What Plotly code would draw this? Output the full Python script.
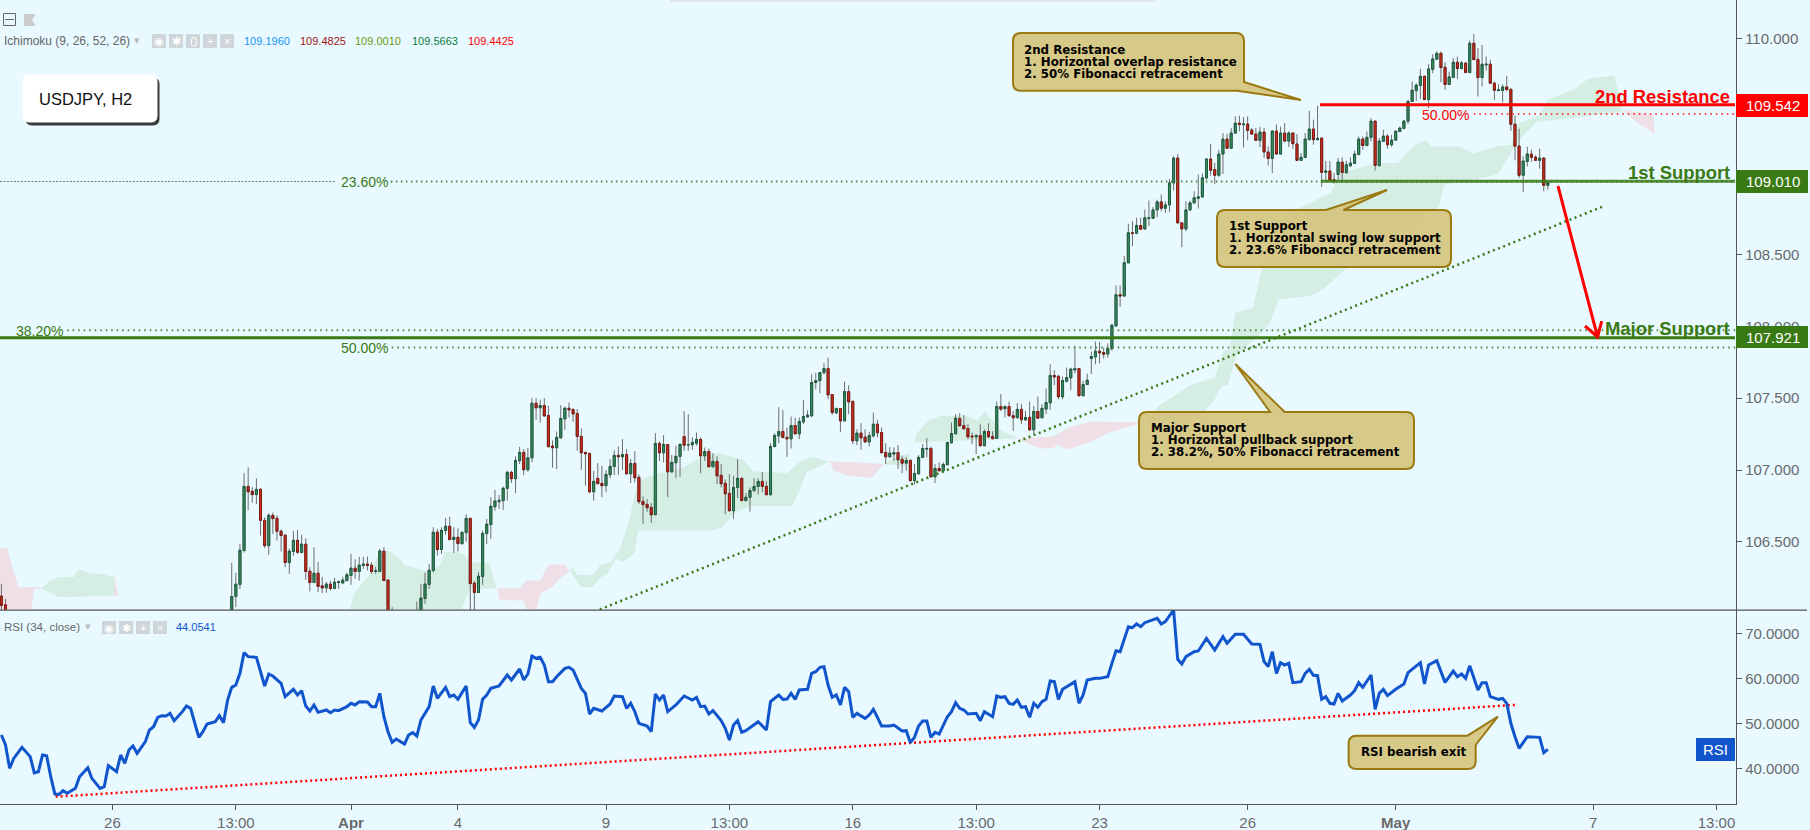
import plotly.graph_objects as go

W, H = 1810, 830

# USDJPY H2 candles. Bars 2-55 and 96-100 sit below the panel.
bar_index = [0, 1] + list(range(56, 96)) + list(range(101, 377))

opens = [
    106.123, 106.062,
    105.95, 106.12, 106.204, 106.44, 106.886, 106.852, 106.829, 106.866, 106.65, 106.474,
    106.685, 106.664, 106.574, 106.546, 106.356, 106.433, 106.511, 106.426, 106.484, 106.296,
    106.217, 106.282, 106.194, 106.18, 106.206, 106.176, 106.217, 106.215, 106.231, 106.266,
    106.317, 106.294, 106.336, 106.345, 106.338, 106.294, 106.294, 106.435, 106.234, 105.95,
    105.95, 105.98, 106.106, 106.204, 106.301, 106.567, 106.447, 106.579, 106.609, 106.516,
    106.532, 106.488, 106.565, 106.664, 106.213, 106.148, 106.259, 106.558, 106.62, 106.745,
    106.78, 106.787, 106.873, 106.984, 106.94, 107.065, 107.123, 107.002, 107.085, 107.465,
    107.433, 107.449, 107.38, 107.167, 107.155, 107.224, 107.356, 107.43, 107.421, 107.393,
    107.234, 107.123, 107.116, 106.849, 106.942, 106.907, 106.891, 106.967, 107.025, 107.102,
    107.092, 107.108, 106.974, 107.046, 106.949, 106.782, 106.761, 106.74, 106.689, 107.185,
    107.12, 107.178, 106.988, 107.051, 107.095, 107.233, 107.176, 107.176, 107.187, 107.213,
    107.099, 107.129, 107.023, 107.06, 106.963, 106.907, 106.838, 106.717, 106.879, 106.942,
    106.787, 106.81, 106.858, 106.886, 106.921, 106.886, 106.828, 107.164, 107.238, 107.268,
    107.227, 107.217, 107.31, 107.252, 107.335, 107.37, 107.377, 107.609, 107.622, 107.678,
    107.706, 107.525, 107.398, 107.428, 107.342, 107.546, 107.477, 107.203, 107.257, 107.229,
    107.196, 107.238, 107.319, 107.261, 107.122, 107.092, 107.111, 107.122, 107.074, 107.048,
    107.067, 106.926, 106.974, 107.088, 107.146, 107.15, 106.953, 107.011, 106.995, 107.037,
    107.19, 107.252, 107.358, 107.31, 107.289, 107.236, 107.231, 107.24, 107.169, 107.268,
    107.234, 107.22, 107.442, 107.426, 107.442, 107.378, 107.364, 107.422, 107.35, 107.366,
    107.28, 107.408, 107.364, 107.424, 107.468, 107.658, 107.653, 107.51, 107.618, 107.642,
    107.697, 107.706, 107.517, 107.595, 107.776, 107.787, 107.827, 107.818, 107.808, 107.845,
    108.003, 108.22, 108.211, 108.442, 108.651, 108.648, 108.701, 108.678, 108.75, 108.752,
    108.81, 108.866, 108.822, 108.845, 108.998, 109.171, 108.72, 108.678, 108.81, 108.859,
    108.891, 108.901, 109.033, 109.164, 109.091, 109.051, 109.199, 109.303, 109.239, 109.345,
    109.414, 109.403, 109.408, 109.366, 109.338, 109.294, 109.352, 109.213, 109.169, 109.359,
    109.199, 109.345, 109.289, 109.345, 109.269, 109.155, 109.176, 109.299, 109.373, 109.299,
    109.31, 109.072, 109.081, 109.021, 109.057, 109.143, 109.069, 109.118, 109.134, 109.196,
    109.303, 109.259, 109.315, 109.428, 109.12, 109.287, 109.324, 109.264, 109.296, 109.356,
    109.377, 109.428, 109.565, 109.641, 109.676, 109.74, 109.578, 109.789, 109.859, 109.9,
    109.803, 109.683, 109.733, 109.838, 109.794, 109.831, 109.766, 109.97, 109.858, 109.731,
    109.819, 109.824, 109.692, 109.641, 109.641, 109.666, 109.65, 109.407, 109.254, 109.051,
    109.148, 109.199, 109.178, 109.155, 109.171, 108.981,
]
highs = [
    106.208, 106.104,
    106.354, 106.285, 106.486, 106.979, 107.018, 106.88, 106.942, 106.873, 106.671, 106.699,
    106.704, 106.685, 106.588, 106.555, 106.454, 106.576, 106.583, 106.551, 106.525, 106.324,
    106.463, 106.359, 106.257, 106.222, 106.229, 106.25, 106.231, 106.257, 106.285, 106.417,
    106.379, 106.396, 106.396, 106.398, 106.359, 106.326, 106.451, 106.463, 106.241, 106.046,
    106.085, 106.208, 106.285, 106.347, 106.602, 106.59, 106.602, 106.667, 106.674, 106.602,
    106.595, 106.567, 106.692, 106.664, 106.229, 106.289, 106.579, 106.66, 106.81, 106.861,
    106.826, 106.886, 106.995, 106.995, 107.095, 107.162, 107.146, 107.153, 107.5, 107.5,
    107.49, 107.5, 107.447, 107.206, 107.268, 107.451, 107.442, 107.47, 107.43, 107.424,
    107.289, 107.123, 107.116, 106.995, 107.048, 107.03, 107.0, 107.076, 107.136, 107.164,
    107.215, 107.146, 107.076, 107.132, 106.97, 106.817, 106.798, 106.77, 107.257, 107.199,
    107.243, 107.178, 107.104, 107.169, 107.187, 107.409, 107.389, 107.227, 107.261, 107.227,
    107.157, 107.15, 107.118, 107.095, 107.041, 106.933, 106.972, 106.96, 107.076, 106.949,
    106.84, 106.879, 106.942, 106.942, 106.986, 106.921, 107.187, 107.257, 107.437, 107.416,
    107.296, 107.372, 107.365, 107.365, 107.486, 107.416, 107.666, 107.678, 107.683, 107.743,
    107.782, 107.525, 107.435, 107.43, 107.615, 107.59, 107.486, 107.284, 107.326, 107.284,
    107.266, 107.4, 107.349, 107.296, 107.187, 107.159, 107.157, 107.173, 107.099, 107.09,
    107.076, 107.041, 107.104, 107.18, 107.222, 107.164, 107.041, 107.053, 107.053, 107.196,
    107.331, 107.389, 107.396, 107.382, 107.319, 107.261, 107.25, 107.319, 107.284, 107.326,
    107.27, 107.477, 107.528, 107.45, 107.477, 107.412, 107.466, 107.459, 107.412, 107.477,
    107.447, 107.512, 107.459, 107.567, 107.736, 107.695, 107.66, 107.65, 107.713, 107.713,
    107.864, 107.706, 107.621, 107.672, 107.824, 107.894, 107.892, 107.852, 107.882, 108.019,
    108.285, 108.285, 108.489, 108.713, 108.732, 108.755, 108.755, 108.813, 108.875, 108.831,
    108.882, 108.917, 108.87, 109.026, 109.183, 109.199, 108.72, 108.87, 108.875, 108.94,
    109.056, 109.063, 109.171, 109.269, 109.137, 109.229, 109.345, 109.34, 109.38, 109.461,
    109.465, 109.456, 109.461, 109.38, 109.38, 109.387, 109.38, 109.252, 109.364, 109.405,
    109.39, 109.414, 109.357, 109.35, 109.338, 109.206, 109.345, 109.5, 109.438, 109.535,
    109.31, 109.151, 109.151, 109.067, 109.171, 109.176, 109.152, 109.176, 109.222, 109.321,
    109.321, 109.356, 109.449, 109.43, 109.31, 109.368, 109.338, 109.333, 109.36, 109.391,
    109.437, 109.576, 109.703, 109.692, 109.791, 109.745, 109.824, 109.893, 109.912, 109.912,
    109.838, 109.773, 109.866, 109.877, 109.847, 109.842, 109.988, 110.034, 109.935, 109.958,
    109.877, 109.854, 109.703, 109.685, 109.685, 109.743, 109.65, 109.467, 109.375, 109.183,
    109.25, 109.229, 109.19, 109.236, 109.176, 109.009,
]
lows = [
    106.0, 105.95,
    105.85, 106.046, 106.173, 106.426, 106.722, 106.773, 106.764, 106.544, 106.458, 106.41,
    106.555, 106.509, 106.433, 106.324, 106.278, 106.403, 106.417, 106.421, 106.236, 106.155,
    106.217, 106.15, 106.143, 106.146, 106.162, 106.173, 106.173, 106.206, 106.224, 106.201,
    106.243, 106.231, 106.312, 106.301, 106.278, 106.278, 106.289, 106.227, 105.9, 105.8,
    105.9, 105.95, 106.069, 106.173, 106.287, 106.405, 106.417, 106.549, 106.516, 106.423,
    106.433, 106.479, 106.502, 105.95, 105.95, 106.146, 106.201, 106.486, 106.521, 106.717,
    106.729, 106.722, 106.787, 106.91, 106.84, 107.042, 106.965, 106.988, 107.053, 107.349,
    107.331, 107.37, 107.162, 107.016, 107.007, 107.22, 107.28, 107.366, 107.336, 107.134,
    107.002, 106.891, 106.838, 106.787, 106.905, 106.812, 106.845, 106.944, 106.965, 106.967,
    107.0, 106.97, 106.909, 106.914, 106.764, 106.625, 106.71, 106.632, 106.689, 107.062,
    107.053, 106.812, 106.98, 106.944, 106.953, 107.134, 107.134, 107.141, 107.17, 106.979,
    107.064, 107.02, 107.018, 106.902, 106.879, 106.694, 106.71, 106.659, 106.805, 106.787,
    106.787, 106.71, 106.845, 106.828, 106.845, 106.828, 106.828, 107.157, 107.187, 107.22,
    107.092, 107.15, 107.25, 107.215, 107.319, 107.365, 107.37, 107.562, 107.534, 107.664,
    107.493, 107.384, 107.39, 107.266, 107.342, 107.389, 107.18, 107.173, 107.141, 107.19,
    107.164, 107.225, 107.227, 107.118, 107.041, 107.088, 107.064, 107.007, 106.979, 106.995,
    106.92, 106.898, 106.97, 107.088, 107.088, 106.95, 106.909, 106.99, 106.99, 107.035,
    107.185, 107.25, 107.303, 107.283, 107.215, 107.18, 107.111, 107.165, 107.169, 107.225,
    107.214, 107.216, 107.41, 107.366, 107.374, 107.273, 107.36, 107.32, 107.34, 107.276,
    107.25, 107.358, 107.36, 107.389, 107.42, 107.59, 107.493, 107.493, 107.61, 107.556,
    107.672, 107.517, 107.517, 107.595, 107.667, 107.736, 107.743, 107.776, 107.783, 107.829,
    108.0, 108.135, 108.205, 108.44, 108.558, 108.646, 108.672, 108.672, 108.697, 108.75,
    108.759, 108.8, 108.789, 108.794, 108.945, 108.72, 108.551, 108.662, 108.805, 108.855,
    108.82, 108.895, 109.02, 109.049, 108.991, 109.04, 109.06, 109.235, 109.235, 109.34,
    109.357, 109.245, 109.294, 109.333, 109.29, 109.248, 109.171, 109.118, 109.067, 109.195,
    109.195, 109.287, 109.248, 109.235, 109.15, 109.155, 109.17, 109.295, 109.264, 109.295,
    108.97, 109.01, 109.015, 108.993, 109.02, 109.02, 109.064, 109.108, 109.13, 109.19,
    109.229, 109.252, 109.287, 109.085, 109.11, 109.285, 109.236, 109.25, 109.29, 109.35,
    109.372, 109.407, 109.56, 109.569, 109.583, 109.575, 109.518, 109.761, 109.854, 109.699,
    109.646, 109.68, 109.727, 109.722, 109.789, 109.766, 109.763, 109.856, 109.599, 109.669,
    109.78, 109.688, 109.576, 109.635, 109.558, 109.635, 109.361, 109.155, 109.032, 108.933,
    109.113, 109.145, 109.15, 109.097, 108.94, 108.951,
]
closes = [
    106.058, 105.98,
    106.12, 106.206, 106.442, 106.886, 106.849, 106.829, 106.866, 106.65, 106.474, 106.685,
    106.662, 106.574, 106.544, 106.356, 106.435, 106.511, 106.428, 106.484, 106.294, 106.217,
    106.282, 106.19, 106.18, 106.206, 106.176, 106.22, 106.222, 106.234, 106.271, 106.317,
    106.294, 106.338, 106.345, 106.336, 106.294, 106.298, 106.437, 106.231, 105.95, 105.9,
    106.0, 106.109, 106.206, 106.303, 106.567, 106.447, 106.581, 106.609, 106.516, 106.532,
    106.488, 106.567, 106.664, 106.21, 106.148, 106.261, 106.56, 106.623, 106.748, 106.785,
    106.789, 106.873, 106.984, 106.94, 107.067, 107.123, 107.002, 107.085, 107.465, 107.433,
    107.449, 107.377, 107.162, 107.155, 107.227, 107.359, 107.43, 107.419, 107.391, 107.234,
    107.12, 107.113, 106.849, 106.921, 106.905, 106.891, 106.97, 107.025, 107.102, 107.092,
    107.108, 106.974, 107.046, 106.946, 106.78, 106.759, 106.738, 106.689, 107.185, 107.12,
    107.178, 106.988, 107.053, 107.095, 107.178, 107.173, 107.176, 107.192, 107.213, 107.099,
    107.129, 107.023, 107.06, 106.96, 106.905, 106.835, 106.717, 106.879, 106.942, 106.787,
    106.81, 106.858, 106.886, 106.921, 106.886, 106.828, 107.164, 107.24, 107.268, 107.227,
    107.217, 107.31, 107.252, 107.338, 107.372, 107.382, 107.609, 107.622, 107.678, 107.706,
    107.523, 107.4, 107.428, 107.342, 107.546, 107.474, 107.203, 107.257, 107.224, 107.196,
    107.24, 107.319, 107.259, 107.12, 107.092, 107.118, 107.122, 107.071, 107.048, 107.067,
    106.926, 106.976, 107.088, 107.15, 107.15, 106.953, 107.011, 106.995, 107.039, 107.192,
    107.254, 107.361, 107.308, 107.287, 107.231, 107.231, 107.24, 107.169, 107.268, 107.231,
    107.218, 107.442, 107.424, 107.442, 107.378, 107.364, 107.422, 107.35, 107.366, 107.28,
    107.408, 107.361, 107.429, 107.47, 107.658, 107.648, 107.51, 107.623, 107.644, 107.702,
    107.706, 107.517, 107.595, 107.625, 107.79, 107.827, 107.815, 107.806, 107.845, 108.007,
    108.22, 108.211, 108.442, 108.651, 108.646, 108.701, 108.676, 108.755, 108.755, 108.81,
    108.866, 108.822, 108.845, 108.998, 109.171, 108.72, 108.678, 108.81, 108.859, 108.894,
    108.901, 109.033, 109.164, 109.086, 109.051, 109.199, 109.303, 109.239, 109.345, 109.414,
    109.405, 109.408, 109.364, 109.338, 109.294, 109.352, 109.213, 109.169, 109.359, 109.199,
    109.345, 109.289, 109.345, 109.271, 109.155, 109.176, 109.303, 109.373, 109.299, 109.308,
    109.072, 109.081, 109.018, 109.014, 109.143, 109.071, 109.125, 109.136, 109.199, 109.303,
    109.259, 109.315, 109.428, 109.12, 109.289, 109.324, 109.264, 109.296, 109.358, 109.379,
    109.428, 109.565, 109.643, 109.678, 109.74, 109.578, 109.791, 109.861, 109.9, 109.801,
    109.683, 109.736, 109.838, 109.794, 109.833, 109.766, 109.97, 109.856, 109.731, 109.824,
    109.824, 109.692, 109.643, 109.646, 109.666, 109.648, 109.407, 109.254, 109.051, 109.15,
    109.199, 109.176, 109.155, 109.171, 108.981, 109.0,
]

rsi_bars = [
    0, 1, 2, 3, 5, 7, 8, 9, 10, 11, 12, 13, 14, 15, 16, 18, 19, 21, 22, 24, 25, 26, 28, 29, 30, 31, 32, 33,
    35, 36, 37, 38, 39, 40, 41, 42, 44, 45, 46, 47, 48, 49, 50, 52, 53, 54, 55, 56, 57, 58, 59, 60, 62, 63,
    64, 65, 66, 68, 69, 71, 72, 73, 74, 75, 76, 77, 79, 80, 81, 82, 84, 85, 86, 87, 89, 90, 91, 92, 93, 94,
    95, 96, 98, 99, 100, 101, 102, 104, 105, 106, 108, 109, 110, 111, 113, 114, 115, 116, 117, 118, 119,
    121, 123, 124, 126, 127, 128, 129, 130, 131, 132, 133, 134, 135, 137, 138, 139, 141, 142, 143, 144,
    146, 148, 149, 151, 152, 153, 154, 155, 157, 158, 159, 160, 161, 162, 164, 166, 168, 169, 170, 171,
    172, 173, 175, 176, 177, 178, 179, 180, 181, 183, 184, 186, 187, 189, 190, 191, 192, 193, 194, 196,
    197, 198, 199, 200, 201, 202, 203, 204, 205, 206, 207, 208, 210, 211, 212, 213, 214, 216, 217, 219,
    220, 221, 222, 223, 224, 225, 226, 227, 228, 230, 231, 232, 233, 234, 235, 237, 238, 239, 241, 242,
    243, 244, 245, 246, 247, 248, 249, 250, 251, 252, 253, 254, 255, 256, 257, 258, 261, 262, 263, 264,
    266, 267, 269, 270, 271, 272, 274, 275, 276, 277, 278, 281, 282, 283, 285, 286, 287, 288, 290, 291,
    293, 295, 297, 298, 300, 302, 304, 306, 307, 308, 309, 310, 311, 312, 313, 314, 316, 317, 318, 319,
    320, 321, 322, 323, 324, 325, 326, 328, 329, 330, 331, 333, 334, 335, 336, 337, 339, 341, 342, 345,
    346, 347, 349, 351, 353, 354, 355, 356, 357, 359, 360, 361, 362, 364, 365, 366, 367, 368, 369, 371,
    372, 373, 374, 375, 376,
]
rsi_values = [
    47.4, 45.18, 40.0, 42.2, 44.66, 42.6, 39.0, 39.25, 42.96, 42.8, 38.14, 34.29, 34.2, 35.03, 34.44, 35.55,
    38.14, 40.14, 37.77, 35.55, 35.92, 40.59, 39.25, 42.96, 41.1, 44.07, 44.96, 43.33,
    45.92, 48.51, 49.25, 51.33, 51.7, 51.62, 52.21, 50.59, 52.59, 53.84, 53.33, 50.0, 46.88, 48.14, 49.84,
    50.36, 51.7, 50.14, 55.18, 57.99, 58.51, 61.1, 65.7, 64.81, 64.66, 61.47,
    58.29, 60.96, 60.51, 58.88, 55.92, 57.55, 56.29, 57.25, 53.84, 52.73, 54.07, 52.44, 52.96, 52.36, 52.96,
    52.81, 53.7, 54.44, 54.07, 54.81, 54.73, 53.7, 53.7, 56.66, 51.47, 48.14,
    45.77, 46.51, 45.4, 47.4, 47.92, 47.18, 50.73, 53.7, 58.29, 55.55, 57.99, 55.92, 56.29, 55.33, 58.29,
    50.14, 49.1, 50.73, 55.33, 56.29, 57.77,
    58.29, 60.73, 59.62, 62.07, 59.62, 60.96, 64.96, 64.44, 64.66, 62.96, 59.25, 59.25, 60.36, 62.21, 62.44,
    61.84, 57.77, 56.66, 52.07, 53.33,
    52.73, 54.29, 56.07, 55.92, 53.33, 54.44, 52.59, 50.0, 49.4, 48.14, 56.51, 55.18, 56.29, 52.59, 54.07,
    56.07, 55.18, 55.77, 53.7, 53.84,
    52.07, 52.81, 50.59, 48.88, 46.29, 49.62, 50.59, 48.0, 48.36, 49.62, 50.36, 48.51, 54.81, 56.29, 55.33,
    55.4, 56.66, 55.33, 57.4, 57.55,
    61.1, 61.47, 62.44, 62.59, 58.51, 55.77, 56.29, 54.07, 57.99, 57.03, 51.33, 52.21, 51.1, 51.84, 53.1,
    51.33, 49.4, 49.4, 49.62, 48.29,
    48.36, 45.7, 46.88, 49.4, 50.51, 50.51, 46.88, 47.99, 47.62, 51.47, 52.59, 54.59, 53.33, 52.96, 52.07,
    52.21, 50.59, 52.59, 51.47, 56.07,
    55.77, 55.92, 54.44, 54.21, 55.18, 53.55, 53.7, 51.33, 54.44, 53.55, 54.81, 55.33, 59.4, 59.25, 55.33,
    57.55, 59.25, 54.44, 56.29, 59.62,
    59.99, 59.99, 60.36, 63.33, 66.14, 65.92, 71.47, 71.25, 72.07, 71.47, 72.36, 73.33, 72.07, 72.59, 75.18,
    64.21, 63.18, 64.81, 65.92, 66.07,
    68.88, 66.29, 69.25, 67.77, 69.77, 69.77, 67.62, 67.55, 63.7, 62.59, 65.92, 61.1, 63.47, 62.96, 63.33,
    59.03, 59.25, 61.1, 61.99, 60.66,
    60.59, 55.33, 55.92, 54.44, 54.29, 56.66, 54.96, 56.29, 57.25, 59.03, 57.99, 60.73, 53.1, 56.66, 57.55,
    56.14, 57.55, 58.73, 61.25, 63.47,
    58.73, 62.96, 63.92, 59.1, 61.62, 60.36, 60.96, 59.99, 62.81, 57.4, 59.03, 59.03, 55.92, 55.33, 55.55,
    54.44, 50.0, 47.03, 44.44, 47.03,
    47.03, 46.88, 46.88, 43.47, 44.22,
]

# ichimoku cloud pieces: (bars, upper span) then (bars, lower span)
cloud_green = [
    ([9.8, 11.6, 14, 17.7, 18.6, 21.9, 25.1, 26.5, 27.4],
     [106.18, 106.22, 106.255, 106.255, 106.312, 106.278, 106.278, 106.255, 106.266],
     [9.8, 11.6, 14, 17.7, 27.4],
     [106.174, 106.15, 106.116, 106.116, 106.127]),
    ([84.8, 85.6, 87.2, 89.2, 90.4, 91.6, 93.7, 95.3, 96.9, 98.1, 100.2, 102.2, 104.2, 106.6, 107.8, 109.9,
      112.3, 113.9, 118.8, 119.6, 120.4],
     [106.03, 106.127, 106.197, 106.255, 106.336, 106.405, 106.44, 106.417, 106.382, 106.336, 106.324, 106.301,
      106.296, 106.336, 106.428, 106.433, 106.417, 106.359, 106.354, 106.243, 106.178],
     [84.8, 111.9, 113.9, 120.4],
     [106.03, 106.03, 106.173, 106.178]),
    ([138.2, 139, 139.9, 143.9, 145.5, 148.3, 150.66, 152.5, 154.8, 159, 165.1, 170.7, 174.4, 180.4, 182.75,
      191.1, 193.9, 196.7, 201.4],
     [106.296, 106.328, 106.27, 106.27, 106.336, 106.359, 106.474, 106.637, 106.926, 106.972, 107.007, 107.1,
      107.118, 107.072, 106.991, 106.979, 107.053, 107.095, 107.06],
     [138.2, 141.1, 143.9, 145.5, 147.4, 149.3, 151.1, 153.9, 154.8, 172.5, 175.3, 178.6, 181.8, 192.1, 193.9,
      195.8, 201.4],
     [106.296, 106.185, 106.185, 106.25, 106.278, 106.382, 106.359, 106.417, 106.579, 106.579, 106.602, 106.706,
      106.748, 106.748, 106.845, 106.984, 107.06]),
    ([214.4, 218.1, 220.9, 222.75, 225.5, 228.3, 234.8, 237.2, 239, 243.2, 246.9],
     [107.042, 107.1, 107.111, 107.262, 107.343, 107.377, 107.377, 107.343, 107.405, 107.273, 107.227],
     [214.4, 216.7, 220, 221.8, 226.5, 246.9],
     [107.042, 107.035, 107.03, 107.192, 107.197, 107.22]),
    ([278, 281.3, 286.4, 289.5, 295, 297.2, 298.7, 299.9, 304.3, 306.8, 309.4, 313.1, 323.2, 325.7, 334.5, 339.5,
      343.3, 346.4, 347.7, 354.6, 357.7, 363.4, 367.1, 369, 374, 375.9, 382.2, 386, 392.2, 394.1],
     [107.33, 107.446, 107.539, 107.597, 107.643, 107.828, 107.84, 108.095, 108.13, 108.442, 108.651, 108.79,
      108.928, 109.067, 109.137, 109.137, 109.252, 109.299, 109.252, 109.252, 109.201, 109.252, 109.264, 109.414,
      109.472, 109.577, 109.646, 109.727, 109.743, 109.507],
     [278, 291.5, 295, 296.7, 298.2, 300.2, 306.4, 308.4, 310.6, 318.1, 321.3, 327.6, 329.5, 349.5, 350.8, 362.1,
      364, 369, 373.4, 382.2, 394.1],
     [107.33, 107.377, 107.493, 107.585, 107.59, 107.794, 107.956, 108.025, 108.188, 108.211, 108.257, 108.419,
      108.465, 108.836, 108.986, 109.044, 109.067, 109.299, 109.426, 109.449, 109.495]),
]
cloud_red = [
    ([-0.34, 1.4, 2.8, 4.2, 7.9, 9.8],
     [106.456, 106.456, 106.312, 106.185, 106.185, 106.18],
     [-0.34, 7.3, 7.9, 9.8],
     [106.03, 106.03, 106.17, 106.174]),
    ([27.4, 28.4], [106.266, 106.127], [27.4, 28.4], [106.127, 106.127]),
    ([120.4, 126.1, 127.7, 131, 133, 137, 138.2],
     [106.178, 106.178, 106.231, 106.231, 106.342, 106.342, 106.296],
     [120.4, 121.2, 126.9, 127.7, 130.1, 131, 133.8, 136.2, 138.2],
     [106.178, 106.096, 106.092, 106.03, 106.03, 106.139, 106.185, 106.255, 106.296]),
    ([201.4, 208.8, 214.4], [107.06, 107.053, 107.042],
     [201.4, 202.3, 206, 211.6, 214.4], [107.06, 106.995, 106.96, 106.944, 107.042]),
    ([246.9, 248.8, 255.8, 259.5, 265.1, 278], [107.22, 107.22, 107.234, 107.296, 107.338, 107.33],
     [246.9, 252.5, 255.8, 256.7, 259, 264.6, 269.3, 278],
     [107.22, 107.15, 107.153, 107.176, 107.141, 107.192, 107.262, 107.33]),
    ([394.1, 401.7, 402], [109.507, 109.472, 109.34], [394.1, 397.9, 402], [109.507, 109.414, 109.34]),
]

# 109.500 and 109.000 sit fully behind the price flags in the picture
price_ticks = [106.5, 107.0, 107.5, 108.0, 108.5, 110.0]
rsi_ticks = [40, 50, 60, 70]
time_ticks = [27, 57, 85, 111, 147, 177, 207, 237, 267, 303, 339, 387, 417]
time_labels = ["26", "13:00", "<b>Apr</b>", "4", "9", "13:00", "16", "13:00", "23", "26", "<b>May</b>", "7", "13:00"]

resistance_2 = 109.542
support_1 = 109.010
support_major = 107.921
fib_236 = 109.008
fib_382 = 107.973
fib_500 = 107.852
fib_500_red = 109.477
trend_x = [145.5, 389.9]
trend_y = [106.03, 108.84]
rsi_trend_x = [13.2, 368.7]
rsi_trend_y = [33.69, 54.13]

BG = "#E8F9FF"
GREEN = "#3A7A14"
RED = "#FF0000"
BLUE = "#1155CC"
AXIS = "#555555"
TICK = "#6A6A6A"
FONT = "Liberation Sans"
X_RANGE = [-0.34, 421.74]


def fx(px):
    return px / W


def fy(py):
    return 1 - py / H


def rect(x0, y0, x1, y1, color, line=None, layer="above"):
    return dict(type="rect", xref="paper", yref="paper", x0=fx(x0), x1=fx(x1), y0=fy(y0), y1=fy(y1),
                fillcolor=color, line=dict(color=line or color, width=1 if line else 0), layer=layer)


def label(px, py, text, size=11, color="#555555", anchor="left", bold=False, family=FONT):
    return dict(xref="paper", yref="paper", x=fx(px), y=fy(py), text=text, showarrow=False,
                xanchor=anchor, yanchor="middle", align=anchor, borderpad=0,
                font=dict(family=family, size=size, color=color, weight=700 if bold else 400))


def pt(x, y):
    return f"{fx(x):.5f},{fy(y):.5f}"


def bubble(x0, y0, x1, y1, tail, where, r=8, fill="rgba(213,197,127,0.93)", edge="#9B7A12", width=2):
    # rounded box with a pointer spliced into the outline
    tail_path = " ".join("L" + pt(*p) for p in tail)
    d = "M" + pt(x0 + r, y0)
    if where == "top":
        d += " " + tail_path
    if where == "tr":
        d += " " + tail_path
    else:
        d += " L" + pt(x1 - r, y0) + " Q" + pt(x1, y0) + " " + pt(x1, y0 + r)
    if where == "br":
        d += " " + tail_path
    else:
        d += " L" + pt(x1, y1 - r) + " Q" + pt(x1, y1) + " " + pt(x1 - r, y1)
    d += " L" + pt(x0 + r, y1) + " Q" + pt(x0, y1) + " " + pt(x0, y1 - r)
    d += " L" + pt(x0, y0 + r) + " Q" + pt(x0, y0) + " " + pt(x0 + r, y0) + " Z"
    return dict(type="path", xref="paper", yref="paper", path=d, fillcolor=fill,
                line=dict(color=edge, width=width), layer="above")


def cloud_shape(up_x, up_y, lo_x, lo_y, color):
    xs = up_x + lo_x[::-1]
    ys = up_y + lo_y[::-1]
    d = "M" + " L".join(f"{a},{b}" for a, b in zip(xs, ys)) + " Z"
    return dict(type="path", xref="x", yref="y", path=d, fillcolor=color, line=dict(width=0), layer="below")


fig = go.Figure()

# levels
x_end = X_RANGE[1]
level_lines = [
    ([-0.34, 81.1], [fib_236, fib_236], "#5E8A5E", 1, "2px,1.5px"),
    ([94.7, x_end], [fib_236, fib_236], "#4C8A3C", 2, "1.5px,3.5px"),
    ([16, x_end], [fib_382, fib_382], "#4C8A3C", 2, "1.5px,4px"),
    ([94.9, x_end], [fib_500, fib_500], "#4C8A3C", 2, "1.5px,4px"),
    ([358, x_end], [fib_500_red, fib_500_red], "#FF4040", 2, "1.5px,4px"),
    (trend_x, trend_y, GREEN, 2.5, "2px,3.5px"),
    ([320.8, 421.5], [support_1, support_1], "rgba(58,122,20,0.85)", 3, None),
    ([-0.34, 421.5], [support_major, support_major], GREEN, 3, None),
]
for xs, ys, color, width, dash in level_lines:
    fig.add_trace(go.Scatter(x=xs, y=ys, mode="lines", line=dict(color=color, width=width, dash=dash),
                             hoverinfo="skip", xaxis="x", yaxis="y"))

# wicks first, bodies with their dark border on top
fig.add_trace(go.Candlestick(x=bar_index, open=opens, high=highs, low=lows, close=closes, whiskerwidth=0,
                             increasing=dict(line=dict(color="#6E6E6E", width=1), fillcolor="#3A9068"),
                             decreasing=dict(line=dict(color="#6E6E6E", width=1), fillcolor="#D9301E"),
                             hoverinfo="skip", xaxis="x", yaxis="y"))
fig.add_trace(go.Candlestick(x=bar_index, open=opens, close=closes,
                             high=[max(a, b) for a, b in zip(opens, closes)],
                             low=[min(a, b) for a, b in zip(opens, closes)], whiskerwidth=0,
                             increasing=dict(line=dict(color="#1F5C3C", width=1), fillcolor="#3A9068"),
                             decreasing=dict(line=dict(color="#7A1B14", width=1), fillcolor="#D9301E"),
                             hoverinfo="skip", xaxis="x", yaxis="y"))

fig.add_trace(go.Scatter(x=[320.6, 421.5], y=[resistance_2, resistance_2], mode="lines",
                         line=dict(color=RED, width=3), hoverinfo="skip", xaxis="x", yaxis="y"))

# RSI pane
fig.add_trace(go.Scatter(x=rsi_trend_x, y=rsi_trend_y, mode="lines", line=dict(color=RED, width=2.5, dash="2px,3px"),
                         hoverinfo="skip", xaxis="x2", yaxis="y2"))
fig.add_trace(go.Scatter(x=rsi_bars, y=rsi_values, mode="lines", line=dict(color=BLUE, width=3),
                         hoverinfo="skip", xaxis="x2", yaxis="y2"))

shapes = [
    rect(670, 0, 1155, 1.5, "#DDE2E4"),
    rect(0, 609.5, 1807, 610.7, AXIS),
    # price flags
    rect(1736, 94, 1808, 117, "#FF0000"),
    rect(1736, 170, 1808, 193, GREEN),
    rect(1736, 326, 1808, 348, GREEN),
    rect(1696, 738, 1735, 761, BLUE),
    # symbol box
    bubble(26, 78, 159, 125, [], "top", r=6, fill="#3A3A3A", edge="#3A3A3A", width=1),
    bubble(23, 75, 157, 122, [], "top", r=6, fill="#FFFFFF", edge="#FFFFFF", width=1),
    # toolbar bits
    rect(3.5, 13.5, 15.5, 25.5, BG, line="#666666"),
    rect(5, 19, 14, 20, "#666666"),
    dict(type="path", xref="paper", yref="paper", path="M" + pt(24, 14) + " L" + pt(36, 14) + " L" + pt(32, 20)
         + " L" + pt(36, 26) + " L" + pt(24, 26) + " Z", fillcolor="#CCCCCC", line=dict(width=0), layer="above"),
    # red arrow
    dict(type="path", xref="paper", yref="paper",
         path="M" + pt(1558, 186) + " L" + pt(1597.6, 337) + " M" + pt(1585, 326) + " L" + pt(1597.6, 337)
         + " L" + pt(1601.7, 321), line=dict(color=RED, width=3), layer="above"),
    # callouts
    bubble(1013, 33, 1244, 90.7, [(1244, 82), (1301, 100), (1237, 90.7)], "br"),
    bubble(1217, 210, 1451, 267, [(1326, 210), (1387, 190), (1343.5, 210)], "top"),
    bubble(1139, 412, 1414, 469, [(1270, 412), (1235.4, 364), (1284.7, 412)], "top"),
    bubble(1348.6, 735.7, 1475.7, 769, [(1467.6, 735.7), (1497.8, 716.7), (1475.7, 745)], "tr"),
]

# cloud goes under the candles
for pieces, color in ((cloud_green, "rgb(212,238,228)"), (cloud_red, "rgb(238,224,230)")):
    for up_x, up_y, lo_x, lo_y in pieces:
        shapes.append(cloud_shape(up_x, up_y, lo_x, lo_y, color))

toolbar_main = [(152, "◉"), (169, "✱"), (186, "()"), (203, "+"), (220, "×")]
toolbar_rsi = [(102, "◉"), (119, "✱"), (136, "+"), (153, "×")]
for x0, _ in toolbar_main:
    shapes.append(rect(x0, 34, x0 + 14, 48, "#CFD6DA"))
for x0, _ in toolbar_rsi:
    shapes.append(rect(x0, 621, x0 + 14, 634, "#CFD6DA"))

notes = [
    label(3, 41, "Ichimoku (9, 26, 52, 26)", size=12, color="#666666"),
    label(133, 40, "▾", size=11, color="#BBBBBB"),
    label(242.6, 41, "109.1960", color="#2196F3"),
    label(298.5, 41, "109.4825", color="#A31515"),
    label(354.4, 41, "109.0010", color="#6B9B10"),
    label(410.6, 41, "109.5663", color="#0F8040"),
    label(466.5, 41, "109.4425", color="#FF0000"),
    label(3, 627, "RSI (34, close)", size=11.5, color="#666666"),
    label(84, 626, "▾", size=11, color="#BBBBBB"),
    label(175, 627, "44.0541", size=11, color=BLUE),
    label(38, 99.5, "USDJPY, H2", size=16.5, color="#111111"),
    label(340, 182, "23.60%", size=14, color=GREEN),
    label(15, 331, "38.20%", size=14, color=GREEN),
    label(340, 348, "50.00%", size=14, color=GREEN),
    label(1421, 115, "50.00%", size=14, color=RED),
    label(1731, 96.5, "2nd Resistance", size=18.4, color=RED, anchor="right", bold=True),
    label(1731, 172.5, "1st Support", size=18.4, color=GREEN, anchor="right", bold=True),
    label(1731, 328.5, "Major Support", size=18.4, color=GREEN, anchor="right", bold=True),
    label(1745, 105.5, "109.542", size=15, color="#FFFFFF"),
    label(1745, 181.5, "109.010", size=15, color="#FFFFFF"),
    label(1745, 337.5, "107.921", size=15, color="#FFFFFF"),
    label(1715.5, 749.5, "RSI", size=15, color="#FFFFFF", anchor="center"),
]
for x0, glyph in toolbar_main:
    notes.append(label(x0 + 7, 41, glyph, size=11, color="#FFFFFF", anchor="center"))
for x0, glyph in toolbar_rsi:
    notes.append(label(x0 + 7, 627.5, glyph, size=11, color="#FFFFFF", anchor="center"))

callout_text = [
    (1023, [50, 62, 73.5], ["2nd Resistance", "1. Horizontal overlap resistance", "2. 50% Fibonacci retracement"]),
    (1228, [226, 238, 250], ["1st Support", "1. Horizontal swing low support", "2. 23.6% Fibonacci retracement"]),
    (1150, [427.7, 439.7, 451.7], ["Major Support", "1. Horizontal pullback support",
                                   "2. 38.2%, 50% Fibonacci retracement"]),
    (1359.7, [751.7], ["RSI bearish exit"]),
]
for px, rows, lines in callout_text:
    for py, line in zip(rows, lines):
        notes.append(label(px, py, line, size=11.8, color="#000000", bold=True, family="DejaVu Sans"))

fig.update_layout(
    width=W, height=H, margin=dict(l=0, r=0, t=0, b=0), paper_bgcolor=BG, plot_bgcolor=BG,
    showlegend=False, hovermode=False, shapes=shapes, annotations=notes,
    font=dict(family=FONT, color=TICK, size=15),
    xaxis=dict(domain=[0, 1736 / W], range=X_RANGE, anchor="y", matches="x2", showticklabels=False, showgrid=False,
               zeroline=False, rangeslider=dict(visible=False), ticks=""),
    yaxis=dict(domain=[1 - 610 / H, 1], range=[106.026, 110.271], anchor="x", side="right", tickvals=price_ticks,
               tickformat=".3f", showgrid=False, zeroline=False, showline=True, linecolor=AXIS, linewidth=1.3,
               ticks="outside", ticklen=5, tickcolor=AXIS, tickfont=dict(size=15, color=TICK)),
    xaxis2=dict(domain=[0, 1736 / W], range=X_RANGE, anchor="y2", tickvals=time_ticks, ticktext=time_labels,
                showgrid=False, zeroline=False, showline=True, linecolor=AXIS, linewidth=1.3, ticks="outside",
                ticklen=5, tickcolor=AXIS, tickangle=0, tickfont=dict(size=15, color=TICK)),
    yaxis2=dict(domain=[1 - 804 / H, 1 - 610 / H], range=[32.07, 75.18], anchor="x2", side="right", tickvals=rsi_ticks,
                tickformat=".4f", showgrid=False, zeroline=False, showline=True, linecolor=AXIS, linewidth=1.3,
                ticks="outside", ticklen=5, tickcolor=AXIS, tickfont=dict(size=15, color=TICK)),
)

fig.write_html("out.html", config=dict(displayModeBar=False), post_script="document.body.style.margin='0';")
